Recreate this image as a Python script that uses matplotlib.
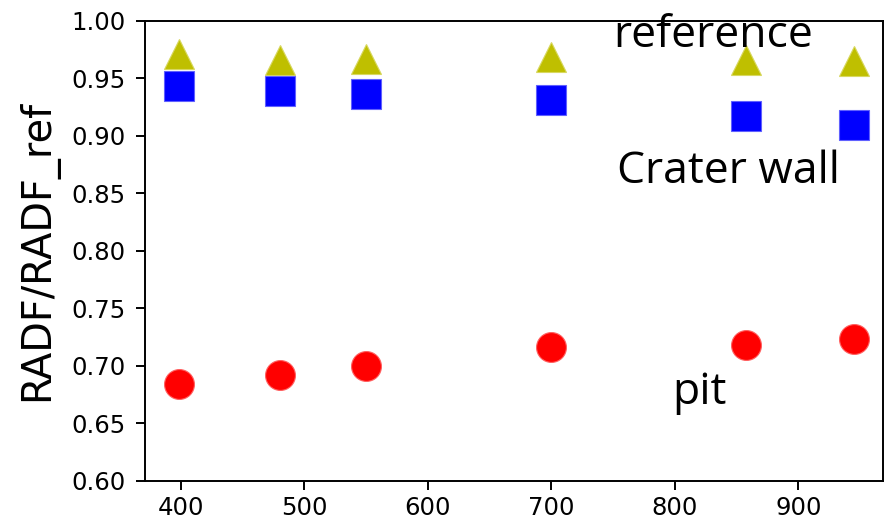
import matplotlib
matplotlib.use("Agg")
import matplotlib.pyplot as plt

# data
wavelength = [398, 480, 550, 700, 858, 945]
reference = [0.971, 0.966, 0.967, 0.968, 0.966, 0.965]
crater_wall = [0.943, 0.939, 0.936, 0.931, 0.917, 0.909]
pit = [0.684, 0.692, 0.700, 0.716, 0.718, 0.723]
x_ticks = [400, 500, 600, 700, 800, 900]
y_ticks = [0.60, 0.65, 0.70, 0.75, 0.80, 0.85, 0.90, 0.95, 1.00]

fig = plt.figure(figsize=(8.87, 5.25), dpi=100)
ax = fig.add_axes([144.7/887, 1-480.7/525, (883-144.7)/887, (480.7-20.7)/525])

ms = 21.5
ax.plot(wavelength, reference, 'y^', ms=ms, mec='#d8d860', mew=0.8, ls='none')
ax.plot(wavelength, crater_wall, 'bs', ms=ms, mec='#6060ff', mew=0.8, ls='none')
ax.plot(wavelength, pit, 'ro', ms=ms, mec='#ff6060', mew=0.8, ls='none')

ax.set_xlim(370.6, 968.6)
ax.set_ylim(0.60, 1.00)
ax.set_xticks(x_ticks)
ax.set_yticks(y_ticks)
ax.set_yticklabels([f"{v:.2f}" for v in y_ticks])
ax.tick_params(labelsize=17.6, length=6.5, width=1.4)
ax.tick_params(axis='x', pad=4.5)
ax.tick_params(axis='y', pad=7)
for s in ax.spines.values():
    s.set_linewidth(1.4)

ax.set_ylabel("RADF/RADF_ref", fontsize=28.7)
ax.yaxis.set_label_coords(-0.1174, 0.5015)

fnt = dict(family="Open Sans", fontsize=32, va="baseline", ha="left")
fig.text(613/887, 1-47/525, "reference", **fnt)
fig.text(617/887, 1-182.7/525, "Crater wall", **fnt)
fig.text(672.7/887, 1-404/525, "pit", **fnt)

fig.savefig("out.png", dpi=100)
